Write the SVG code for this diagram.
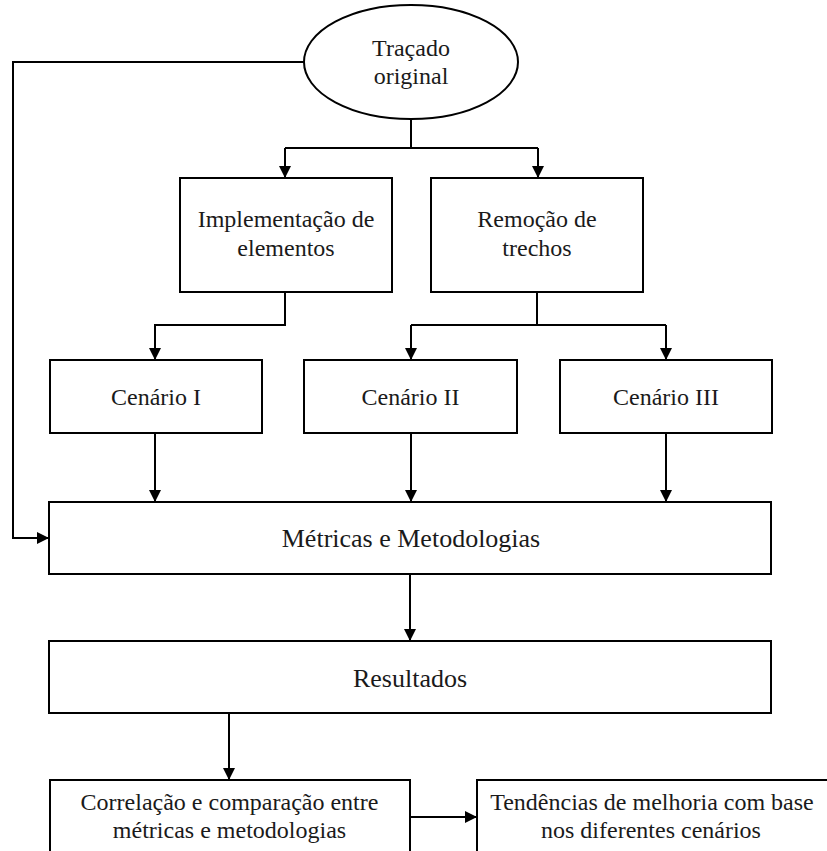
<svg xmlns="http://www.w3.org/2000/svg" width="827" height="851" viewBox="0 0 827 851">
<style>
.n{fill:#fff;stroke:#000;stroke-width:2}
.t{font-family:"Liberation Serif","Times New Roman",serif;font-size:24px;fill:#1a1a1a;text-anchor:middle}
.b{font-size:26px}
.c{fill:none;stroke:#000;stroke-width:2}
</style>
<defs>
<marker id="ah" markerUnits="userSpaceOnUse" markerWidth="12" markerHeight="14" viewBox="0 0 12 14" refX="12" refY="7" orient="auto">
<path d="M0,1 L12,7 L0,13 Z" fill="#000"/>
</marker>
</defs>
<rect width="827" height="851" fill="#fff"/>
<g id="connectors">
<path class="c" d="M304,62 H13 V538 H49" marker-end="url(#ah)"/>
<path class="c" d="M411,118 V148"/>
<path class="c" d="M285,148 H538"/>
<path class="c" d="M285,148 V178" marker-end="url(#ah)"/>
<path class="c" d="M538,148 V178" marker-end="url(#ah)"/>
<path class="c" d="M285,292 V325 H155 V360" marker-end="url(#ah)"/>
<path class="c" d="M537,292 V325"/>
<path class="c" d="M411,325 H666"/>
<path class="c" d="M411,325 V360" marker-end="url(#ah)"/>
<path class="c" d="M666,325 V360" marker-end="url(#ah)"/>
<path class="c" d="M155,433 V502" marker-end="url(#ah)"/>
<path class="c" d="M411,433 V502" marker-end="url(#ah)"/>
<path class="c" d="M666,433 V502" marker-end="url(#ah)"/>
<path class="c" d="M410,574 V641" marker-end="url(#ah)"/>
<path class="c" d="M229,713 V780" marker-end="url(#ah)"/>
<path class="c" d="M410,817 H477" marker-end="url(#ah)"/>
</g>
<g id="tracado">
<ellipse class="n" cx="411" cy="62" rx="107" ry="57"/>
<text class="t" x="411" y="56">Traçado</text>
<text class="t" x="411" y="84">original</text>
</g>
<g id="implementacao">
<rect class="n" x="180" y="178" width="212" height="114"/>
<text class="t" x="286" y="227">Implementação de</text>
<text class="t" x="286" y="256">elementos</text>
</g>
<g id="remocao">
<rect class="n" x="431" y="178" width="212" height="114"/>
<text class="t" x="537" y="227">Remoção de</text>
<text class="t" x="537" y="256">trechos</text>
</g>
<g id="cenario1">
<rect class="n" x="50" y="360" width="212" height="73"/>
<text class="t" x="156" y="405">Cenário I</text>
</g>
<g id="cenario2">
<rect class="n" x="304" y="360" width="213" height="73"/>
<text class="t" x="410.5" y="405">Cenário II</text>
</g>
<g id="cenario3">
<rect class="n" x="560" y="360" width="212" height="73"/>
<text class="t" x="666" y="405">Cenário III</text>
</g>
<g id="metricas">
<rect class="n" x="49" y="502" width="722" height="72"/>
<text class="t b" x="411" y="547">Métricas e Metodologias</text>
</g>
<g id="resultados">
<rect class="n" x="49" y="641" width="722" height="72"/>
<text class="t b" x="410" y="687">Resultados</text>
</g>
<g id="correlacao">
<rect class="n" x="50" y="780" width="360" height="90"/>
<text class="t" x="229.5" y="810">Correlação e comparação entre</text>
<text class="t" x="229.5" y="838">métricas e metodologias</text>
</g>
<g id="tendencias">
<rect class="n" x="477" y="780" width="370" height="90"/>
<text class="t" x="652" y="810">Tendências de melhoria com base</text>
<text class="t" x="651" y="838">nos diferentes cenários</text>
</g>
</svg>
